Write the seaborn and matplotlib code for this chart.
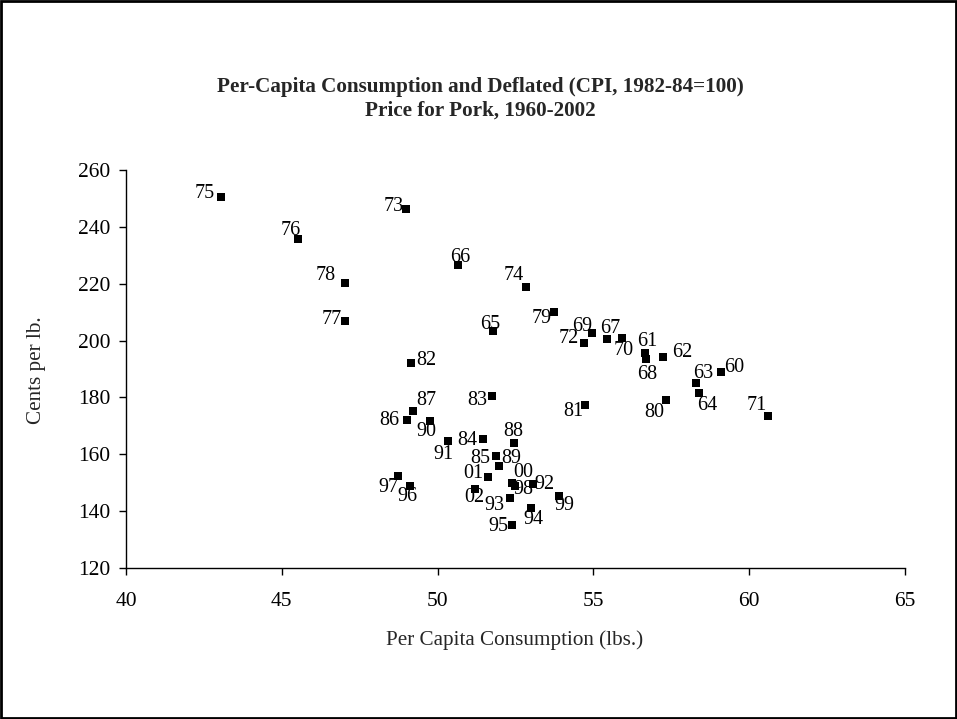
import matplotlib
matplotlib.use("Agg")
import matplotlib.pyplot as plt
import seaborn as sns
import pandas as pd
from matplotlib.patches import Rectangle

years = ["60", "61", "62", "63", "64", "65", "66", "67", "68", "69",
         "70", "71", "72", "73", "74", "75", "76", "77", "78", "79",
         "80", "81", "82", "83", "84", "85", "86", "87", "88", "89",
         "90", "91", "92", "93", "94", "95", "96", "97", "98", "99",
         "00", "01", "02"]
consumption = [59.09, 56.65, 57.24, 58.29, 58.38, 51.79, 50.64, 55.43, 56.69, 54.96,
               55.93, 60.61, 54.71, 48.98, 52.83, 43.04, 45.53, 47.04, 47.02, 53.74,
               57.32, 54.72, 49.15, 51.74, 51.47, 51.88, 49.02, 49.22, 52.46, 51.97,
               49.75, 50.34, 53.05, 52.33, 53.00, 52.40, 49.10, 48.72, 52.49, 53.90,
               52.40, 51.61, 51.20]
price = [189.0, 195.5, 194.1, 185.0, 181.6, 203.5, 226.6, 200.5, 193.5, 202.6,
         201.0, 173.6, 199.0, 246.2, 218.7, 250.4, 235.6, 207.0, 220.4, 210.0,
         179.1, 177.2, 192.2, 180.5, 165.4, 159.4, 172.1, 175.3, 164.0, 155.8,
         171.6, 164.7, 149.4, 144.6, 141.2, 135.0, 148.8, 152.5, 148.7, 145.3,
         149.9, 151.9, 147.8]

x_ticks = [40, 45, 50, 55, 60, 65]
y_ticks = [120, 140, 160, 180, 200, 220, 240, 260]

# label placement (pixels, x right / y down) relative to each marker
label_offsets = {
    "60": (13.6, -4), "61": (2, -12.3), "62": (19, -4.6), "63": (7.3, -10),
    "64": (9, 13), "65": (-3, -6.4), "66": (3, -7.7), "67": (3.3, -10.7),
    "68": (0.7, 15), "69": (-9.6, -6.6), "70": (1, 12.3), "71": (-11, -9.7),
    "72": (-16, -5), "73": (-12.4, -2.6), "74": (-12.4, -12.3), "75": (-15.7, -4),
    "76": (-7.3, -9.3), "77": (-13.6, -1.4), "78": (-19, -7.4), "79": (-12, 6.7),
    "80": (-11.4, 12.3), "81": (-11.4, 6.4), "82": (15, -2), "83": (-14.4, 4.7),
    "84": (-16, 1.7), "85": (-16.3, 2.3), "86": (-17.7, 1), "87": (13.4, -10),
    "88": (-1, -11.3), "89": (12.7, -8), "90": (-3, 10.4), "91": (-5, 13.3),
    "92": (11.3, 0), "93": (-16, 7), "94": (2.3, 11.7), "95": (-14, 1.4),
    "96": (-2, 10.7), "97": (-9.4, 11.6), "98": (8, 3), "99": (5.7, 9),
    "00": (11, -10.3), "01": (-14.4, -4), "02": (-0.7, 8.3),
}

df = pd.DataFrame({"year": years, "consumption": consumption, "price": price})

sns.set_style("white")
plt.rcParams["font.family"] = ["Liberation Serif", "DejaVu Serif"]

W, H = 957, 719
fig = plt.figure(figsize=(W / 100, H / 100), dpi=100)
fig.patch.set_facecolor("white")
ax = fig.add_axes([126 / W, 1 - 568 / H, (905 - 126) / W, (568 - 170) / H])

sns.scatterplot(data=df, x="consumption", y="price", marker="s", color="black",
                s=26, linewidth=0, ax=ax, legend=False, zorder=3)

for yr, cx, cy in zip(years, consumption, price):
    dx, dy = label_offsets[yr]
    ax.annotate(yr, (cx, cy), xytext=(dx, -dy), textcoords="offset pixels",
                ha="center", va="center", fontsize=14.5, color="black")

ax.set_xlim(40, 65)
ax.set_ylim(120, 260)
ax.set_xticks(x_ticks)
ax.set_yticks(y_ticks)
ax.tick_params(axis="both", direction="out", length=5, width=1, colors="black",
               labelsize=15.5, left=True, bottom=True)
ax.tick_params(axis="x", pad=12)
ax.tick_params(axis="y", pad=6)
for s in ["top", "right"]:
    ax.spines[s].set_visible(False)
for s in ["left", "bottom"]:
    ax.spines[s].set_color("black")
    ax.spines[s].set_linewidth(1)
ax.set_xlabel("")
ax.set_ylabel("")
ax.set_facecolor("white")

fig.text(515 / W, 1 - 640 / H, "Per Capita Consumption (lbs.)", ha="center",
         va="center", fontsize=15.2)
fig.text(37 / W, 1 - 370 / H, "Cents per lb.", ha="center", va="center",
         rotation=90, fontsize=15.2)
fig.text(480 / W, 1 - 87 / H, "Per-Capita Consumption and Deflated (CPI, 1982-84=100)",
         ha="center", va="center", fontsize=15.2, fontweight="bold")
fig.text(480 / W, 1 - 111 / H, "Price for Pork, 1960-2002",
         ha="center", va="center", fontsize=15.2, fontweight="bold")

fig.patches.append(Rectangle((0.0015, 0.002), 0.997, 0.996, transform=fig.transFigure,
                             fill=False, edgecolor="black", linewidth=2))

fig.savefig("out.png", dpi=100, facecolor="white")
